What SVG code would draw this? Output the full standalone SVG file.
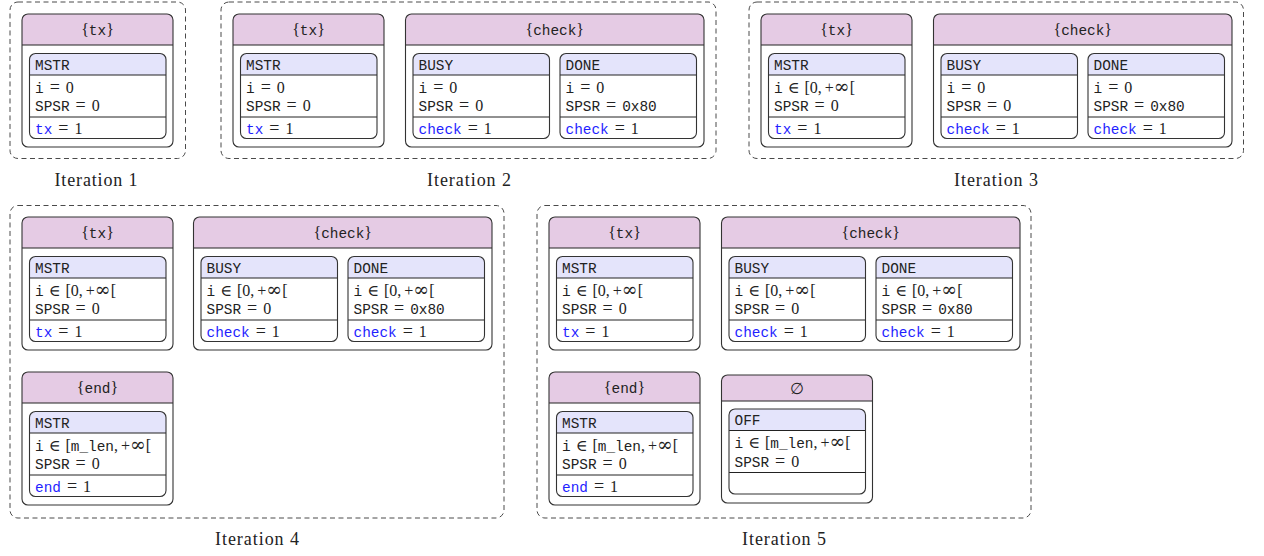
<svg xmlns="http://www.w3.org/2000/svg" xmlns:xlink="http://www.w3.org/1999/xlink" width="1264" height="556" viewBox="0 0 1264 556">
<style>
  .frame { fill: none; stroke: #4a4a4a; stroke-width: 1; stroke-dasharray: 5 3.5; }
  .outline { fill: none; stroke: #333; stroke-width: 1.1; }
  .hdr { fill: #e5cbe4; }
  .subhdr { fill: #e4e4fb; }
  .rule { fill: none; stroke: #222; stroke-width: 1; }
  .rm { font-family: "Liberation Serif", "DejaVu Serif", serif; font-size: 16px; fill: #222; }
  .tt { font-family: "Liberation Mono", "DejaVu Sans Mono", monospace; font-size: 14.4px; fill: #222; }
  .op { font-size: 18px; }
  .inf { font-family: "DejaVu Serif", serif; font-size: 19px; }
  .kw { fill: #1f1fff; }
  .cap { font-family: "Liberation Serif", "DejaVu Serif", serif; font-size: 18px; fill: #222; }
</style>
<defs>
  <!-- state box: name bar, value lines, flag line -->
  <g id="inner">
    <rect width="136.5" height="85" rx="6" fill="#fff"/>
    <path d="M0,21.5 V6 A6,6 0 0 1 6,0 H130.5 A6,6 0 0 1 136.5,6 V21.5 Z" class="subhdr"/>
    <path d="M0,21.5 H136.5 M0,63.5 H136.5" class="rule"/>
    <rect width="136.5" height="85" rx="6" class="outline"/>
  </g>
  <!-- single-state event node -->
  <g id="frame-narrow">
    <rect width="151" height="133" rx="6" fill="#fff"/>
    <path d="M0,31 V6 A6,6 0 0 1 6,0 H145 A6,6 0 0 1 151,6 V31 Z" class="hdr"/>
    <path d="M0,31 H151" class="rule"/>
    <rect width="151" height="133" rx="6" class="outline"/>
  </g>
  <!-- two-state event node -->
  <g id="frame-wide">
    <rect width="298.5" height="133" rx="6" fill="#fff"/>
    <path d="M0,31 V6 A6,6 0 0 1 6,0 H292.5 A6,6 0 0 1 298.5,6 V31 Z" class="hdr"/>
    <path d="M0,31 H298.5" class="rule"/>
    <rect width="298.5" height="133" rx="6" class="outline"/>
  </g>
  <!-- empty event set node -->
  <g id="frame-empty">
    <rect width="151" height="128" rx="6" fill="#fff"/>
    <path d="M0,26 V6 A6,6 0 0 1 6,0 H145 A6,6 0 0 1 151,6 V26 Z" class="hdr"/>
    <path d="M0,26 H151" class="rule"/>
    <rect width="151" height="128" rx="6" class="outline"/>
  </g>
</defs>

<!-- ===== Iteration 1 ===== -->
<g id="iteration-1">
  <rect class="frame" x="10" y="2" width="175.5" height="156.5" rx="8"/>
  <text class="cap" x="96" y="186" text-anchor="middle" textLength="83" lengthAdjust="spacing">Iteration 1</text>
</g>
<g id="it1-tx" transform="translate(22,14)">
  <use xlink:href="#frame-narrow"/>
  <text class="rm" x="75.5" y="21" text-anchor="middle">{<tspan class="tt">tx</tspan>}</text>
  <use xlink:href="#inner" x="7.5" y="39.5"/>
  <text class="tt" x="13" y="55.5">MSTR</text>
  <text class="rm" x="13" y="78.8"><tspan class="tt">i</tspan><tspan class="op" dx="6">=</tspan><tspan dx="6">0</tspan></text>
  <text class="rm" x="13" y="97"><tspan class="tt">SPSR</tspan><tspan class="op" dx="6">=</tspan><tspan dx="6">0</tspan></text>
  <text class="rm" x="13" y="119.7"><tspan class="tt kw">tx</tspan><tspan class="op" dx="6">=</tspan><tspan dx="6">1</tspan></text>
</g>

<!-- ===== Iteration 2 ===== -->
<g id="iteration-2">
  <rect class="frame" x="221" y="2" width="495" height="156.5" rx="8"/>
  <text class="cap" x="469" y="186" text-anchor="middle" textLength="84" lengthAdjust="spacing">Iteration 2</text>
</g>
<g id="it2-tx" transform="translate(233,14)">
  <use xlink:href="#frame-narrow"/>
  <text class="rm" x="75.5" y="21" text-anchor="middle">{<tspan class="tt">tx</tspan>}</text>
  <use xlink:href="#inner" x="7.5" y="39.5"/>
  <text class="tt" x="13" y="55.5">MSTR</text>
  <text class="rm" x="13" y="78.8"><tspan class="tt">i</tspan><tspan class="op" dx="6">=</tspan><tspan dx="6">0</tspan></text>
  <text class="rm" x="13" y="97"><tspan class="tt">SPSR</tspan><tspan class="op" dx="6">=</tspan><tspan dx="6">0</tspan></text>
  <text class="rm" x="13" y="119.7"><tspan class="tt kw">tx</tspan><tspan class="op" dx="6">=</tspan><tspan dx="6">1</tspan></text>
</g>
<g id="it2-check" transform="translate(405.5,14)">
  <use xlink:href="#frame-wide"/>
  <text class="rm" x="149.25" y="21" text-anchor="middle">{<tspan class="tt">check</tspan>}</text>
  <use xlink:href="#inner" x="7.5" y="39.5"/>
  <text class="tt" x="13" y="55.5">BUSY</text>
  <text class="rm" x="13" y="78.8"><tspan class="tt">i</tspan><tspan class="op" dx="6">=</tspan><tspan dx="6">0</tspan></text>
  <text class="rm" x="13" y="97"><tspan class="tt">SPSR</tspan><tspan class="op" dx="6">=</tspan><tspan dx="6">0</tspan></text>
  <text class="rm" x="13" y="119.7"><tspan class="tt kw">check</tspan><tspan class="op" dx="6">=</tspan><tspan dx="6">1</tspan></text>
  <use xlink:href="#inner" x="154.5" y="39.5"/>
  <text class="tt" x="160" y="55.5">DONE</text>
  <text class="rm" x="160" y="78.8"><tspan class="tt">i</tspan><tspan class="op" dx="6">=</tspan><tspan dx="6">0</tspan></text>
  <text class="rm" x="160" y="97"><tspan class="tt">SPSR</tspan><tspan class="op" dx="6">=</tspan><tspan class="tt" dx="6">0x80</tspan></text>
  <text class="rm" x="160" y="119.7"><tspan class="tt kw">check</tspan><tspan class="op" dx="6">=</tspan><tspan dx="6">1</tspan></text>
</g>

<!-- ===== Iteration 3 ===== -->
<g id="iteration-3">
  <rect class="frame" x="749" y="2" width="494.5" height="156.5" rx="8"/>
  <text class="cap" x="996" y="186" text-anchor="middle" textLength="84" lengthAdjust="spacing">Iteration 3</text>
</g>
<g id="it3-tx" transform="translate(761,14)">
  <use xlink:href="#frame-narrow"/>
  <text class="rm" x="75.5" y="21" text-anchor="middle">{<tspan class="tt">tx</tspan>}</text>
  <use xlink:href="#inner" x="7.5" y="39.5"/>
  <text class="tt" x="13" y="55.5">MSTR</text>
  <text class="rm" x="13" y="78.8"><tspan class="tt">i</tspan><tspan dx="5">∈</tspan><tspan dx="5">[0,</tspan><tspan dx="3">+</tspan><tspan class="inf">∞</tspan>[</text>
  <text class="rm" x="13" y="97"><tspan class="tt">SPSR</tspan><tspan class="op" dx="6">=</tspan><tspan dx="6">0</tspan></text>
  <text class="rm" x="13" y="119.7"><tspan class="tt kw">tx</tspan><tspan class="op" dx="6">=</tspan><tspan dx="6">1</tspan></text>
</g>
<g id="it3-check" transform="translate(933.5,14)">
  <use xlink:href="#frame-wide"/>
  <text class="rm" x="149.25" y="21" text-anchor="middle">{<tspan class="tt">check</tspan>}</text>
  <use xlink:href="#inner" x="7.5" y="39.5"/>
  <text class="tt" x="13" y="55.5">BUSY</text>
  <text class="rm" x="13" y="78.8"><tspan class="tt">i</tspan><tspan class="op" dx="6">=</tspan><tspan dx="6">0</tspan></text>
  <text class="rm" x="13" y="97"><tspan class="tt">SPSR</tspan><tspan class="op" dx="6">=</tspan><tspan dx="6">0</tspan></text>
  <text class="rm" x="13" y="119.7"><tspan class="tt kw">check</tspan><tspan class="op" dx="6">=</tspan><tspan dx="6">1</tspan></text>
  <use xlink:href="#inner" x="154.5" y="39.5"/>
  <text class="tt" x="160" y="55.5">DONE</text>
  <text class="rm" x="160" y="78.8"><tspan class="tt">i</tspan><tspan class="op" dx="6">=</tspan><tspan dx="6">0</tspan></text>
  <text class="rm" x="160" y="97"><tspan class="tt">SPSR</tspan><tspan class="op" dx="6">=</tspan><tspan class="tt" dx="6">0x80</tspan></text>
  <text class="rm" x="160" y="119.7"><tspan class="tt kw">check</tspan><tspan class="op" dx="6">=</tspan><tspan dx="6">1</tspan></text>
</g>

<!-- ===== Iteration 4 ===== -->
<g id="iteration-4">
  <rect class="frame" x="10" y="205.5" width="494" height="312.5" rx="8"/>
  <text class="cap" x="257" y="545" text-anchor="middle" textLength="84" lengthAdjust="spacing">Iteration 4</text>
</g>
<g id="it4-tx" transform="translate(22,217)">
  <use xlink:href="#frame-narrow"/>
  <text class="rm" x="75.5" y="21" text-anchor="middle">{<tspan class="tt">tx</tspan>}</text>
  <use xlink:href="#inner" x="7.5" y="39.5"/>
  <text class="tt" x="13" y="55.5">MSTR</text>
  <text class="rm" x="13" y="78.8"><tspan class="tt">i</tspan><tspan dx="5">∈</tspan><tspan dx="5">[0,</tspan><tspan dx="3">+</tspan><tspan class="inf">∞</tspan>[</text>
  <text class="rm" x="13" y="97"><tspan class="tt">SPSR</tspan><tspan class="op" dx="6">=</tspan><tspan dx="6">0</tspan></text>
  <text class="rm" x="13" y="119.7"><tspan class="tt kw">tx</tspan><tspan class="op" dx="6">=</tspan><tspan dx="6">1</tspan></text>
</g>
<g id="it4-check" transform="translate(193.5,217)">
  <use xlink:href="#frame-wide"/>
  <text class="rm" x="149.25" y="21" text-anchor="middle">{<tspan class="tt">check</tspan>}</text>
  <use xlink:href="#inner" x="7.5" y="39.5"/>
  <text class="tt" x="13" y="55.5">BUSY</text>
  <text class="rm" x="13" y="78.8"><tspan class="tt">i</tspan><tspan dx="5">∈</tspan><tspan dx="5">[0,</tspan><tspan dx="3">+</tspan><tspan class="inf">∞</tspan>[</text>
  <text class="rm" x="13" y="97"><tspan class="tt">SPSR</tspan><tspan class="op" dx="6">=</tspan><tspan dx="6">0</tspan></text>
  <text class="rm" x="13" y="119.7"><tspan class="tt kw">check</tspan><tspan class="op" dx="6">=</tspan><tspan dx="6">1</tspan></text>
  <use xlink:href="#inner" x="154.5" y="39.5"/>
  <text class="tt" x="160" y="55.5">DONE</text>
  <text class="rm" x="160" y="78.8"><tspan class="tt">i</tspan><tspan dx="5">∈</tspan><tspan dx="5">[0,</tspan><tspan dx="3">+</tspan><tspan class="inf">∞</tspan>[</text>
  <text class="rm" x="160" y="97"><tspan class="tt">SPSR</tspan><tspan class="op" dx="6">=</tspan><tspan class="tt" dx="6">0x80</tspan></text>
  <text class="rm" x="160" y="119.7"><tspan class="tt kw">check</tspan><tspan class="op" dx="6">=</tspan><tspan dx="6">1</tspan></text>
</g>
<g id="it4-end" transform="translate(22,372)">
  <use xlink:href="#frame-narrow"/>
  <text class="rm" x="75.5" y="21" text-anchor="middle">{<tspan class="tt">end</tspan>}</text>
  <use xlink:href="#inner" x="7.5" y="39.5"/>
  <text class="tt" x="13" y="55.5">MSTR</text>
  <text class="rm" x="13" y="78.8"><tspan class="tt">i</tspan><tspan dx="5">∈</tspan><tspan dx="5">[</tspan><tspan class="tt">m_len</tspan>,<tspan dx="3">+</tspan><tspan class="inf">∞</tspan>[</text>
  <text class="rm" x="13" y="97"><tspan class="tt">SPSR</tspan><tspan class="op" dx="6">=</tspan><tspan dx="6">0</tspan></text>
  <text class="rm" x="13" y="119.7"><tspan class="tt kw">end</tspan><tspan class="op" dx="6">=</tspan><tspan dx="6">1</tspan></text>
</g>

<!-- ===== Iteration 5 ===== -->
<g id="iteration-5">
  <rect class="frame" x="537" y="205.5" width="494" height="312.5" rx="8"/>
  <text class="cap" x="784" y="545" text-anchor="middle" textLength="84" lengthAdjust="spacing">Iteration 5</text>
</g>
<g id="it5-tx" transform="translate(549,217)">
  <use xlink:href="#frame-narrow"/>
  <text class="rm" x="75.5" y="21" text-anchor="middle">{<tspan class="tt">tx</tspan>}</text>
  <use xlink:href="#inner" x="7.5" y="39.5"/>
  <text class="tt" x="13" y="55.5">MSTR</text>
  <text class="rm" x="13" y="78.8"><tspan class="tt">i</tspan><tspan dx="5">∈</tspan><tspan dx="5">[0,</tspan><tspan dx="3">+</tspan><tspan class="inf">∞</tspan>[</text>
  <text class="rm" x="13" y="97"><tspan class="tt">SPSR</tspan><tspan class="op" dx="6">=</tspan><tspan dx="6">0</tspan></text>
  <text class="rm" x="13" y="119.7"><tspan class="tt kw">tx</tspan><tspan class="op" dx="6">=</tspan><tspan dx="6">1</tspan></text>
</g>
<g id="it5-check" transform="translate(721.5,217)">
  <use xlink:href="#frame-wide"/>
  <text class="rm" x="149.25" y="21" text-anchor="middle">{<tspan class="tt">check</tspan>}</text>
  <use xlink:href="#inner" x="7.5" y="39.5"/>
  <text class="tt" x="13" y="55.5">BUSY</text>
  <text class="rm" x="13" y="78.8"><tspan class="tt">i</tspan><tspan dx="5">∈</tspan><tspan dx="5">[0,</tspan><tspan dx="3">+</tspan><tspan class="inf">∞</tspan>[</text>
  <text class="rm" x="13" y="97"><tspan class="tt">SPSR</tspan><tspan class="op" dx="6">=</tspan><tspan dx="6">0</tspan></text>
  <text class="rm" x="13" y="119.7"><tspan class="tt kw">check</tspan><tspan class="op" dx="6">=</tspan><tspan dx="6">1</tspan></text>
  <use xlink:href="#inner" x="154.5" y="39.5"/>
  <text class="tt" x="160" y="55.5">DONE</text>
  <text class="rm" x="160" y="78.8"><tspan class="tt">i</tspan><tspan dx="5">∈</tspan><tspan dx="5">[0,</tspan><tspan dx="3">+</tspan><tspan class="inf">∞</tspan>[</text>
  <text class="rm" x="160" y="97"><tspan class="tt">SPSR</tspan><tspan class="op" dx="6">=</tspan><tspan class="tt" dx="6">0x80</tspan></text>
  <text class="rm" x="160" y="119.7"><tspan class="tt kw">check</tspan><tspan class="op" dx="6">=</tspan><tspan dx="6">1</tspan></text>
</g>
<g id="it5-end" transform="translate(549,372)">
  <use xlink:href="#frame-narrow"/>
  <text class="rm" x="75.5" y="21" text-anchor="middle">{<tspan class="tt">end</tspan>}</text>
  <use xlink:href="#inner" x="7.5" y="39.5"/>
  <text class="tt" x="13" y="55.5">MSTR</text>
  <text class="rm" x="13" y="78.8"><tspan class="tt">i</tspan><tspan dx="5">∈</tspan><tspan dx="5">[</tspan><tspan class="tt">m_len</tspan>,<tspan dx="3">+</tspan><tspan class="inf">∞</tspan>[</text>
  <text class="rm" x="13" y="97"><tspan class="tt">SPSR</tspan><tspan class="op" dx="6">=</tspan><tspan dx="6">0</tspan></text>
  <text class="rm" x="13" y="119.7"><tspan class="tt kw">end</tspan><tspan class="op" dx="6">=</tspan><tspan dx="6">1</tspan></text>
</g>
<g id="it5-empty" transform="translate(721.5,375)">
  <use xlink:href="#frame-empty"/>
  <text class="rm" x="75.5" y="18.5" text-anchor="middle" font-size="14" fill="#444">∅</text>
  <use xlink:href="#inner" x="7.5" y="34"/>
  <text class="tt" x="13" y="50">OFF</text>
  <text class="rm" x="13" y="73.3"><tspan class="tt">i</tspan><tspan dx="5">∈</tspan><tspan dx="5">[</tspan><tspan class="tt">m_len</tspan>,<tspan dx="3">+</tspan><tspan class="inf">∞</tspan>[</text>
  <text class="rm" x="13" y="91.5"><tspan class="tt">SPSR</tspan><tspan class="op" dx="6">=</tspan><tspan dx="6">0</tspan></text>
</g>
</svg>
